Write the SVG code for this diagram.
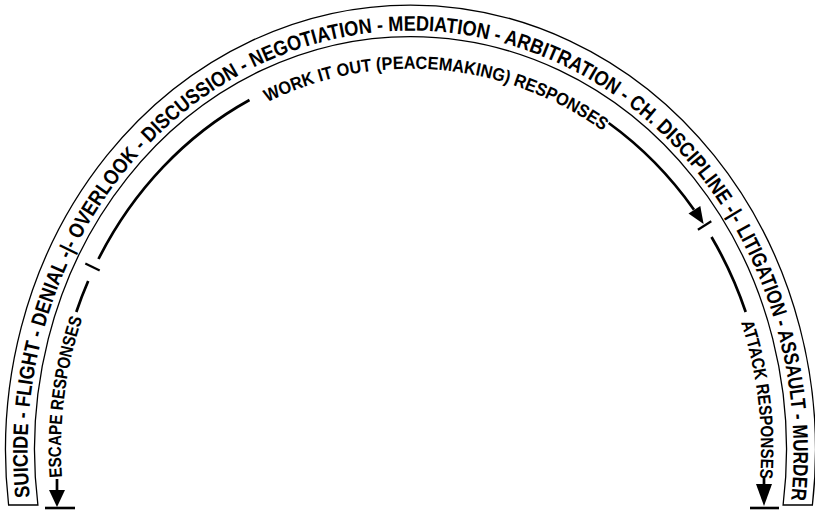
<svg xmlns="http://www.w3.org/2000/svg" width="815" height="512" viewBox="0 0 815 512">
<style>
.band{fill:none;stroke:#000;stroke-width:1.3}
.ln{fill:none;stroke:#000;stroke-width:2.7}
.tk{stroke:#000;stroke-width:2.2;fill:none}
.bar{stroke:#000;stroke-width:2.6}
.ah{fill:#000;stroke:none}
.t{font-family:"Liberation Sans",Arial,sans-serif;font-weight:bold;fill:#000}
</style>
<defs>
<path id="bandPath" d="M31.8,515 A383,421.4 0 1 1 789.2,515"/>
<path id="innerPath" d="M65.5,510 A350,380.5 0 1 1 756.5,510"/>
</defs>
<rect width="815" height="512" fill="#fff"/>
<g id="band">
<path class="band" d="M8.6,505 A405,445 0 1 1 812.4,505 L783.1,505 A376,413 0 1 0 37.9,505 Z"/>
<text class="t" font-size="21"><textPath href="#bandPath" startOffset="18" textLength="1071" lengthAdjust="spacingAndGlyphs">SUICIDE - FLIGHT - DENIAL -|- OVERLOOK - DISCUSSION - NEGOTIATION - MEDIATION - ARBITRATION - CH. DISCIPLINE -|-</textPath></text>
<text class="t" font-size="21"><textPath href="#bandPath" startOffset="1095" textLength="280" lengthAdjust="spacingAndGlyphs">LITIGATION - ASSAULT - MURDER</textPath></text>
</g>
<g id="escape">
<text class="t" font-size="18"><textPath href="#innerPath" startOffset="33" textLength="161" lengthAdjust="spacingAndGlyphs">ESCAPE RESPONSES</textPath></text>
</g>
<g id="workitout">
<text class="t" font-size="18"><textPath href="#innerPath" startOffset="486" textLength="354" lengthAdjust="spacingAndGlyphs">WORK IT OUT (PEACEMAKING) RESPONSES</textPath></text>
</g>
<g id="attack">
<text class="t" font-size="18"><textPath href="#innerPath" startOffset="1080" textLength="158" lengthAdjust="spacingAndGlyphs">ATTACK RESPONSES</textPath></text>
</g>
<g id="connectors">
<path class="ln" d="M76.3,312 A356.4,387 0 0 1 88.2,281"/>
<line class="tk" x1="85.3" y1="263.5" x2="99.7" y2="270.5"/>
<path class="ln" d="M98.5,259 A356.4,387 0 0 1 249.5,100"/>
<path class="ln" d="M608.7,123 A356.4,387 0 0 1 694,209.7"/>
<polygon class="ah" points="703.6,224 700.3,205.9 688.5,213.5"/>
<line class="tk" x1="697.9" y1="229.8" x2="711.3" y2="221.2"/>
<path class="ln" d="M711.5,237 A356.4,387 0 0 1 745.7,312"/>
<line class="ln" x1="57" y1="479" x2="57" y2="492"/>
<polygon class="ah" points="49,490 65,490 57,507"/>
<line class="bar" x1="45" y1="508" x2="75" y2="508"/>
<line class="ln" x1="764" y1="478" x2="764" y2="486"/>
<polygon class="ah" points="756,484 772,484 764,506"/>
<line class="bar" x1="750" y1="508" x2="779" y2="508"/>
</g>
</svg>
